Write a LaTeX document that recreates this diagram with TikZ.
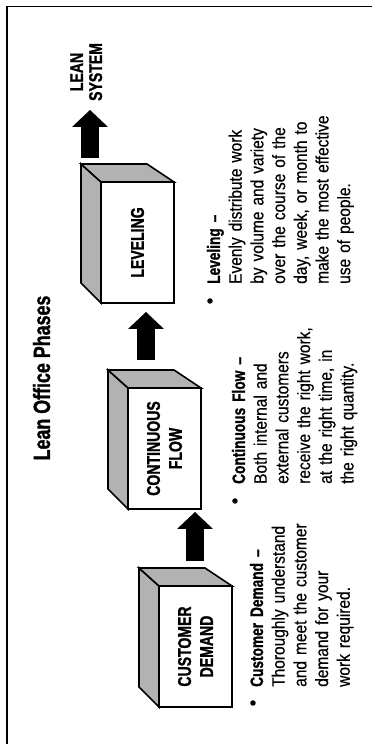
\documentclass[tikz,border=0pt]{standalone}
\usepackage{fontspec}
\setmainfont{Liberation Sans}[FakeStretch=0.86,FakeBold=0.4]
\newfontfamily\condbold{Liberation Sans Bold}[FakeStretch=0.76,FakeBold=1.2]
\usetikzlibrary{arrows.meta}
\newcommand\cubebox[4]{%
  \begin{scope}[xshift=#2pt,yshift=#3pt]
    \draw[face] (0,73) -- (20,93) -- (139,93) -- (121,73) -- cycle;
    \draw[face] (121,73) -- (139,93) -- (139,27) -- (121,0) -- cycle;
    \node[frontface] (#1) at (60.5,36.5) {#4};
  \end{scope}}
\begin{document}
\begin{tikzpicture}[x=1pt,y=1pt,rotate=90,transform shape,
  face/.style={fill=black!30, draw=black, line width=1.6pt},
  frontface/.style={draw=black, fill=white, line width=1.6pt,
    minimum width=121pt, minimum height=73pt, inner sep=0pt, align=center,
    font=\condbold\fontsize{18.5}{22}\selectfont},
  bigarrow/.style={draw=black, line width=18pt,
    -{Triangle[width=36pt,length=17pt,line width=0pt]}},
  bul/.style={circle, fill=black, inner sep=0pt, minimum size=5.5pt},
  itemtext/.style={anchor=base west, inner sep=0pt, text width=200pt,
    align=left, font=\fontsize{18}{21.7}\selectfont},
  heading/.style={font=\condbold\fontsize{23.5}{28}\selectfont,
    anchor=base, inner sep=0pt},
  frameline/.style={draw=black, line width=1.4pt}]
\useasboundingbox (0,0) rectangle (744,372);
% frame (left and top edges of the page)
\draw[frameline] (0,365) -- (737.5,365) -- (737.5,0);
% title
\node[heading] (title) at (366,322) {Lean Office Phases};
% boxes
\cubebox{cd}{37}{140}{CUSTOMER\\DEMAND}
\cubebox{cf}{235}{171}{CONTINUOUS\\FLOW}
\cubebox{lev}{441}{198}{LEVELING}
% arrows
\coordinate (a1s) at (183,177);
\coordinate (a1e) at (232,177);
\coordinate (a2s) at (384,226);
\coordinate (a2e) at (432,226);
\coordinate (a3s) at (586,282);
\coordinate (a3e) at (634,282);
\draw[bigarrow] (a1s) -- (a1e);
\draw[bigarrow] (a2s) -- (a2e);
\draw[bigarrow] (a3s) -- (a3e);
% lean system
\node[font=\condbold\fontsize{18.5}{19}\selectfont, anchor=base,
  inner sep=0pt, text width=80pt, align=center] (lean) at (672,289) {LEAN\\SYSTEM};
% bullet texts
\node[bul] (cdb) at (41,119) {};
\node[itemtext] (cdt) at (57,109) {{\condbold Customer Demand –}\\Thoroughly understand\\and meet the customer\\demand for your\\work required.};
\node[bul] (cfb) at (243,137) {};
\node[itemtext] (cft) at (260,127) {{\condbold Continuous Flow –}\\Both internal and\\external customers\\receive the right work,\\at the right time, in\\the right quantity.};
\node[bul] (levb) at (443,162) {};
\node[itemtext] (levt) at (460,152) {{\condbold Leveling –}\\Evenly distribute work\\by volume and variety\\over the course of the\\day, week, or month to\\make the most effective\\use of people.};
\end{tikzpicture}
\end{document}
